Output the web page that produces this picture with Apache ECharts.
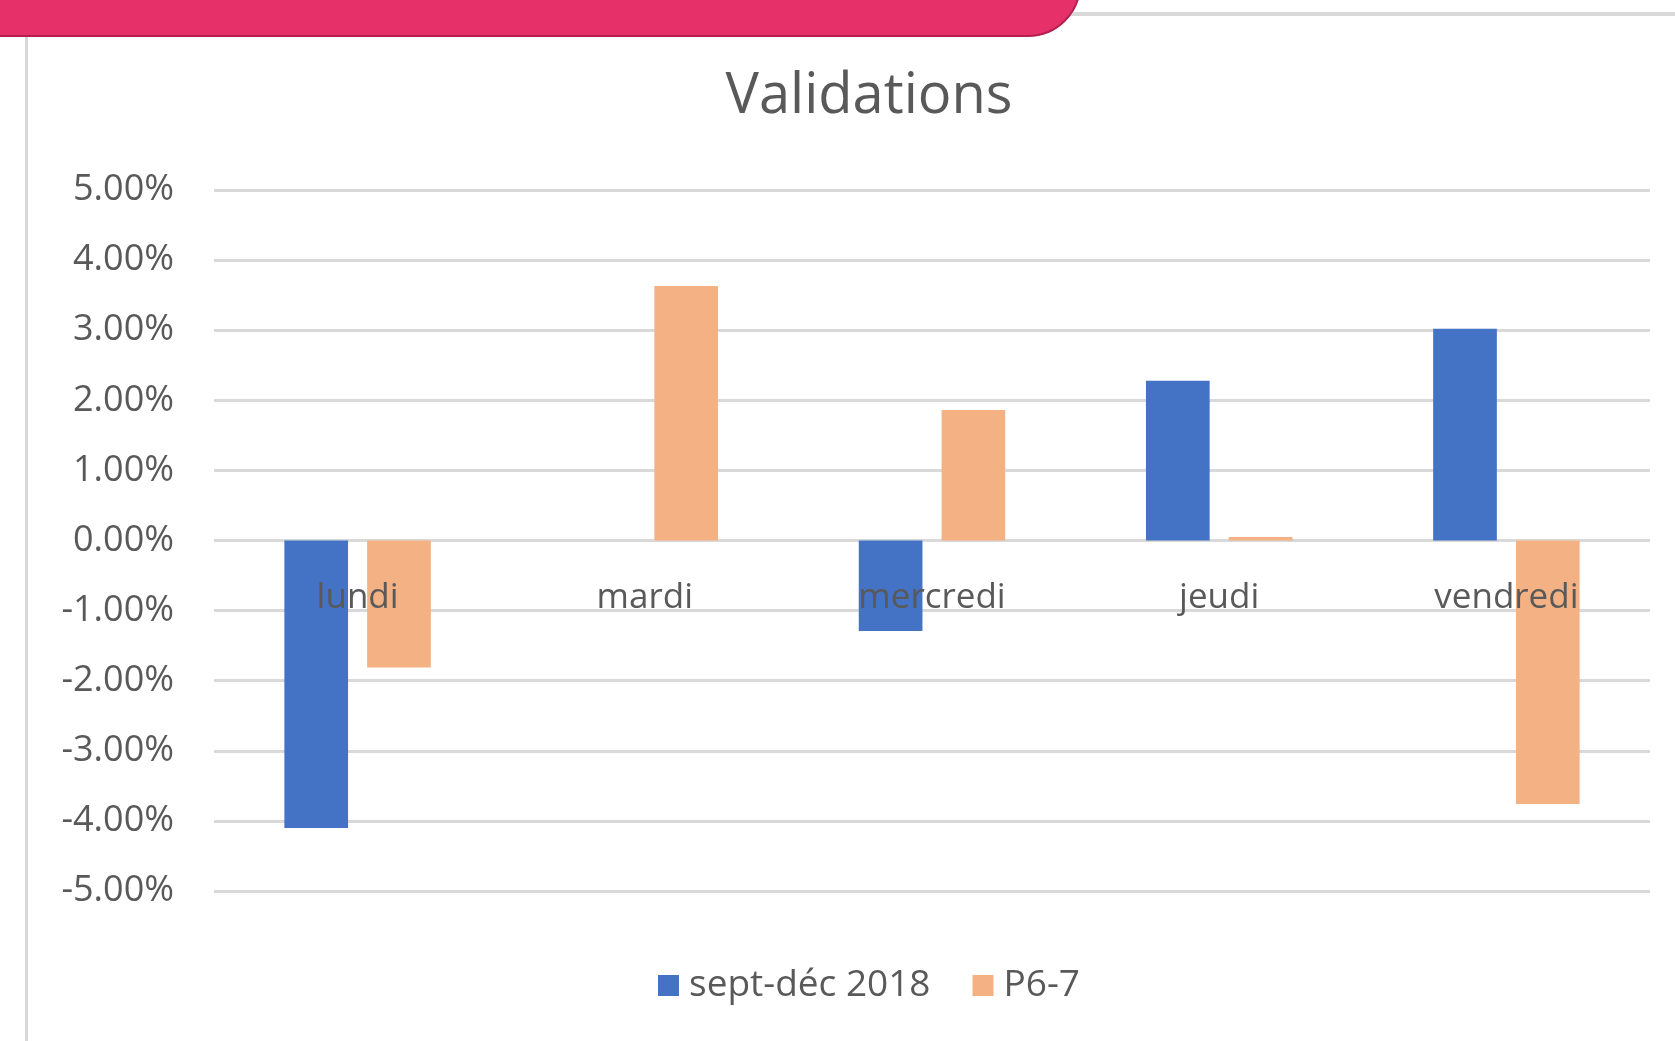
<!DOCTYPE html>
<html>
<head>
<meta charset="utf-8">
<script src="https://cdn.jsdelivr.net/npm/echarts@6/dist/echarts.min.js"></script>
<style>
html,body{margin:0;padding:0;background:#fff;}
#c{width:1675px;height:1041px;}
</style>
</head>
<body>
<div id="c"></div>
<script>
const titleText = 'Validations';
const categories = ['lundi', 'mardi', 'mercredi', 'jeudi', 'vendredi'];
const seriesNames = ['sept-déc 2018', 'P6-7'];
const septDec2018 = [-0.0410, 0, -0.0129, 0.0228, 0.0302];
const p67 = [-0.0181, 0.0363, 0.0186, 0.0005, -0.0376];
const yMin = -0.05, yMax = 0.05, yStep = 0.01;

const FONT = '"Open Sans", "Noto Sans", sans-serif';
const GRID_TOP = 190, GRID_BOTTOM = 150, H = 1041;
const plotH = H - GRID_TOP - GRID_BOTTOM;
// distance from the plot bottom up to the zero line (position of the category labels)
const zeroOffset = -plotH * (0 - yMin) / (yMax - yMin);

const chart = echarts.init(document.getElementById('c'), null, {renderer: 'canvas'});
chart.setOption({
  animation: false,
  backgroundColor: '#ffffff',
  title: {
    text: titleText,
    left: 864,
    textAlign: 'center',
    top: 64,
    textStyle: {fontFamily: FONT, fontSize: 56, fontWeight: 'normal', color: '#595959'}
  },
  legend: {
    data: seriesNames,
    left: 653,
    top: 962,
    itemWidth: 21,
    itemHeight: 21,
    itemGap: 42,
    icon: 'rect',
    textStyle: {fontFamily: FONT, fontSize: 37, color: '#595959', padding: [0, 0, 0, 5]}
  },
  grid: {left: 214, right: 25, top: GRID_TOP, bottom: GRID_BOTTOM, containLabel: false},
  xAxis: {
    type: 'category',
    data: categories,
    z: 10,
    offset: zeroOffset,
    axisLine: {show: false, onZero: false},
    axisTick: {show: false},
    axisLabel: {fontFamily: FONT, fontSize: 35, color: '#595959', margin: 40}
  },
  yAxis: {
    type: 'value',
    min: yMin, max: yMax, interval: yStep,
    axisLine: {show: false},
    axisTick: {show: false},
    splitLine: {lineStyle: {color: '#d9d9d9', width: 3}},
    axisLabel: {
      fontFamily: FONT, fontSize: 36, color: '#595959', margin: 40,
      formatter: v => (v * 100).toFixed(2) + '%'
    }
  },
  series: [
    {name: seriesNames[0], type: 'bar', data: septDec2018, barGap: '30%', barCategoryGap: '49%',
     itemStyle: {color: '#4472C4'}},
    {name: seriesNames[1], type: 'bar', data: p67,
     itemStyle: {color: '#F4B183'}}
  ],
  graphic: [
    {type: 'rect', shape: {x: 25, y: 30, width: 3, height: 1020}, style: {fill: '#d9d9d9'}, z: 0},
    {type: 'rect', shape: {x: 1060, y: 12, width: 620, height: 4}, style: {fill: '#d9d9d9'}, z: 0},
    {type: 'rect', z: 5,
     shape: {x: -10, y: -40, width: 1090, height: 76, r: [0, 0, 52, 0]},
     style: {fill: '#E6306A', stroke: '#B3204F', lineWidth: 2}}
  ]
});
</script>
</body>
</html>
